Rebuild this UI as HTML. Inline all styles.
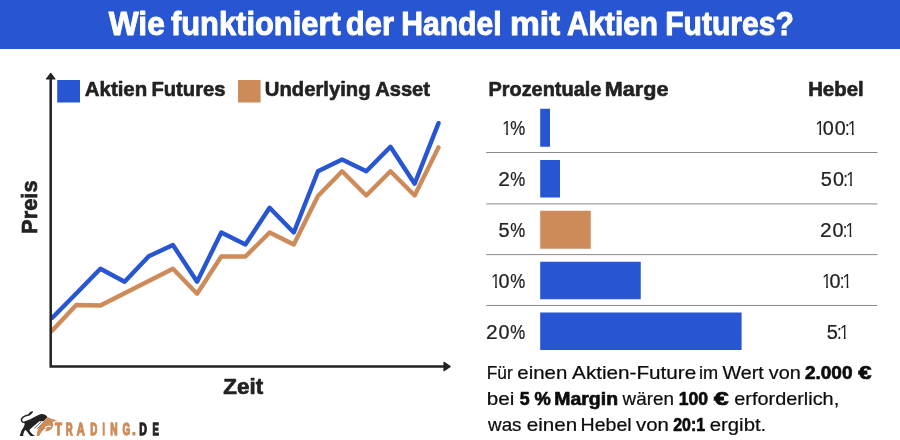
<!DOCTYPE html>
<html lang="de"><head><meta charset="utf-8"><title>Wie funktioniert der Handel mit Aktien Futures?</title>
<style>
html,body{margin:0;padding:0;background:#ffffff;}
body{width:900px;height:440px;overflow:hidden;}
svg{display:block;font-family:"Liberation Sans",sans-serif;}
text{white-space:pre;}
</style></head><body>
<svg width="900" height="440" viewBox="0 0 900 440">
<defs><clipPath id="c2010"><path d="M1.47 -14.73 H7.02 V0.39 H4.91 V-1.55 H1.47 Z"/></clipPath></defs>
<rect width="900" height="440" fill="#ffffff"/>
<rect x="0" y="0" width="900" height="49" fill="#2856d2"/>
<text transform="translate(108.70 34.50) scale(0.9540 1)" font-size="33.26" font-weight="700" fill="#ffffff" stroke="#ffffff" stroke-width="1.00" stroke-linejoin="round">Wie</text>
<text transform="translate(170.94 34.50) scale(0.9285 1)" font-size="33.26" font-weight="700" fill="#ffffff" stroke="#ffffff" stroke-width="1.00" stroke-linejoin="round">funktioniert</text>
<text transform="translate(345.86 34.50) scale(0.9322 1)" font-size="33.26" font-weight="700" fill="#ffffff" stroke="#ffffff" stroke-width="1.00" stroke-linejoin="round">der</text>
<text transform="translate(401.14 34.50) scale(0.9068 1)" font-size="33.26" font-weight="700" fill="#ffffff" stroke="#ffffff" stroke-width="1.00" stroke-linejoin="round">Handel</text>
<text transform="translate(509.92 34.50) scale(1.0059 1)" font-size="33.26" font-weight="700" fill="#ffffff" stroke="#ffffff" stroke-width="1.00" stroke-linejoin="round">mit</text>
<text transform="translate(566.95 34.50) scale(0.8971 1)" font-size="33.26" font-weight="700" fill="#ffffff" stroke="#ffffff" stroke-width="1.00" stroke-linejoin="round">Aktien</text>
<text transform="translate(665.14 34.50) scale(0.9046 1)" font-size="33.26" font-weight="700" fill="#ffffff" stroke="#ffffff" stroke-width="1.00" stroke-linejoin="round">Futures?</text>
<polyline points="52.08,330.75 76.25,305.00 100.42,305.50 124.59,293.25 148.76,281.00 172.93,268.75 197.10,293.75 221.27,256.50 245.44,256.50 269.61,232.50 293.78,244.50 317.95,196.00 342.12,171.25 366.29,195.50 390.46,171.25 414.63,195.50 438.49,147.38" fill="none" stroke="#cd8b59" stroke-width="4.4" stroke-linejoin="round" stroke-linecap="round"/>
<polyline points="52.08,318.00 76.25,293.50 100.42,268.75 124.59,281.75 148.76,256.25 172.93,245.00 197.10,281.75 221.27,232.50 245.44,244.50 269.61,207.75 293.78,232.50 317.95,171.25 342.12,159.50 366.29,171.25 390.46,146.75 414.63,183.75 438.54,123.15" fill="none" stroke="#2856d2" stroke-width="4.4" stroke-linejoin="round" stroke-linecap="round"/>
<path d="M50.7 78 V366.5 H445" fill="none" stroke="#222222" stroke-width="2.5" stroke-linejoin="miter"/>
<path d="M50.7 73.4 L55 79 H46.4 Z" fill="#222222" stroke="#222222" stroke-width="1.2" stroke-linejoin="round"/>
<path d="M450.2 366.5 L444 362.3 V370.7 Z" fill="#222222" stroke="#222222" stroke-width="1.2" stroke-linejoin="round"/>
<rect x="57.2" y="80" width="22.8" height="22.5" fill="#2856d2"/>
<rect x="238" y="80" width="22.6" height="22.5" fill="#cd8b59"/>
<text transform="translate(84.73 95.50) scale(1.0334 1)" font-size="19.80" font-weight="700" fill="#222222" stroke="#222222" stroke-width="0.59" stroke-linejoin="round">Aktien</text>
<text transform="translate(151.42 95.50) scale(1.0217 1)" font-size="19.80" font-weight="700" fill="#222222" stroke="#222222" stroke-width="0.59" stroke-linejoin="round">Futures</text>
<text transform="translate(264.77 95.50) scale(1.0236 1)" font-size="19.80" font-weight="700" fill="#222222" stroke="#222222" stroke-width="0.59" stroke-linejoin="round">Underlying</text>
<text transform="translate(375.23 95.50) scale(1.0161 1)" font-size="19.80" font-weight="700" fill="#222222" stroke="#222222" stroke-width="0.59" stroke-linejoin="round">Asset</text>
<text transform="translate(223.34 393.75) scale(1.0281 1)" font-size="21.77" font-weight="700" fill="#222222" stroke="#222222" stroke-width="0.65" stroke-linejoin="round">Zeit</text>
<text transform="translate(37 233.92) rotate(-90) scale(0.9659 1)" font-size="22.67" font-weight="700" fill="#222222" stroke="#222222" stroke-width="0.68">Preis</text>
<text transform="translate(488.44 95.75) scale(0.9951 1)" font-size="20.03" font-weight="700" fill="#222222" stroke="#222222" stroke-width="0.60" stroke-linejoin="round">Prozentuale</text>
<text transform="translate(604.84 95.75) scale(1.0777 1)" font-size="20.03" font-weight="700" fill="#222222" stroke="#222222" stroke-width="0.60" stroke-linejoin="round">Marge</text>
<text transform="translate(808.17 95.75) scale(1.0172 1)" font-size="20.03" font-weight="700" fill="#222222" stroke="#222222" stroke-width="0.60" stroke-linejoin="round">Hebel</text>
<g><text clip-path="url(#c2010)" transform="translate(501.99 134.80) scale(0.85 1)" font-size="20.10" font-weight="400" fill="#222222">1</text><text transform="translate(510.21 134.80) scale(0.8375 1)" font-size="20.10" font-weight="400" fill="#222222" stroke="#222222" stroke-width="0.24">%</text></g>
<g><text clip-path="url(#c2010)" transform="translate(815.19 134.80) scale(0.85 1)" font-size="20.10" font-weight="400" fill="#222222">1</text><text transform="translate(822.70 134.80) scale(0.9852 1)" font-size="20.10" font-weight="400" fill="#222222" stroke="#222222" stroke-width="0.24">0</text><text transform="translate(834.80 134.80) scale(0.9852 1)" font-size="20.10" font-weight="400" fill="#222222" stroke="#222222" stroke-width="0.24">0</text><text transform="translate(845.34 134.80) scale(0.7496 1)" font-size="20.10" font-weight="400" fill="#222222" stroke="#222222" stroke-width="0.24">:</text><text clip-path="url(#c2010)" transform="translate(847.79 134.80) scale(0.85 1)" font-size="20.10" font-weight="400" fill="#222222">1</text></g>
<rect x="540.2" y="108.75" width="9.80" height="38.00" fill="#2856d2"/>
<g><text transform="translate(498.15 185.70) scale(1.0393 1)" font-size="20.10" font-weight="400" fill="#222222" stroke="#222222" stroke-width="0.24">2</text><text transform="translate(510.21 185.70) scale(0.8375 1)" font-size="20.10" font-weight="400" fill="#222222" stroke="#222222" stroke-width="0.24">%</text></g>
<g><text transform="translate(820.85 185.70) scale(0.9955 1)" font-size="20.10" font-weight="400" fill="#222222" stroke="#222222" stroke-width="0.24">5</text><text transform="translate(832.95 185.70) scale(0.9852 1)" font-size="20.10" font-weight="400" fill="#222222" stroke="#222222" stroke-width="0.24">0</text><text transform="translate(843.49 185.70) scale(0.7496 1)" font-size="20.10" font-weight="400" fill="#222222" stroke="#222222" stroke-width="0.24">:</text><text clip-path="url(#c2010)" transform="translate(845.94 185.70) scale(0.85 1)" font-size="20.10" font-weight="400" fill="#222222">1</text></g>
<rect x="540.2" y="160" width="19.80" height="37.50" fill="#2856d2"/>
<g><text transform="translate(498.40 236.80) scale(0.9955 1)" font-size="20.10" font-weight="400" fill="#222222" stroke="#222222" stroke-width="0.24">5</text><text transform="translate(510.21 236.80) scale(0.8375 1)" font-size="20.10" font-weight="400" fill="#222222" stroke="#222222" stroke-width="0.24">%</text></g>
<g><text transform="translate(820.10 236.80) scale(1.0393 1)" font-size="20.10" font-weight="400" fill="#222222" stroke="#222222" stroke-width="0.24">2</text><text transform="translate(832.45 236.80) scale(0.9852 1)" font-size="20.10" font-weight="400" fill="#222222" stroke="#222222" stroke-width="0.24">0</text><text transform="translate(842.99 236.80) scale(0.7496 1)" font-size="20.10" font-weight="400" fill="#222222" stroke="#222222" stroke-width="0.24">:</text><text clip-path="url(#c2010)" transform="translate(845.44 236.80) scale(0.85 1)" font-size="20.10" font-weight="400" fill="#222222">1</text></g>
<rect x="540.2" y="210.75" width="50.55" height="38.00" fill="#cd8b59"/>
<g><text clip-path="url(#c2010)" transform="translate(490.89 287.50) scale(0.85 1)" font-size="20.10" font-weight="400" fill="#222222">1</text><text transform="translate(498.40 287.50) scale(0.9852 1)" font-size="20.10" font-weight="400" fill="#222222" stroke="#222222" stroke-width="0.24">0</text><text transform="translate(510.21 287.50) scale(0.8375 1)" font-size="20.10" font-weight="400" fill="#222222" stroke="#222222" stroke-width="0.24">%</text></g>
<g><text clip-path="url(#c2010)" transform="translate(821.94 287.50) scale(0.85 1)" font-size="20.10" font-weight="400" fill="#222222">1</text><text transform="translate(829.45 287.50) scale(0.9852 1)" font-size="20.10" font-weight="400" fill="#222222" stroke="#222222" stroke-width="0.24">0</text><text transform="translate(839.99 287.50) scale(0.7496 1)" font-size="20.10" font-weight="400" fill="#222222" stroke="#222222" stroke-width="0.24">:</text><text clip-path="url(#c2010)" transform="translate(842.44 287.50) scale(0.85 1)" font-size="20.10" font-weight="400" fill="#222222">1</text></g>
<rect x="540.2" y="261.75" width="100.55" height="37.50" fill="#2856d2"/>
<g><text transform="translate(486.05 338.50) scale(1.0393 1)" font-size="20.10" font-weight="400" fill="#222222" stroke="#222222" stroke-width="0.24">2</text><text transform="translate(498.40 338.50) scale(0.9852 1)" font-size="20.10" font-weight="400" fill="#222222" stroke="#222222" stroke-width="0.24">0</text><text transform="translate(510.21 338.50) scale(0.8375 1)" font-size="20.10" font-weight="400" fill="#222222" stroke="#222222" stroke-width="0.24">%</text></g>
<g><text transform="translate(826.70 338.50) scale(0.9955 1)" font-size="20.10" font-weight="400" fill="#222222" stroke="#222222" stroke-width="0.24">5</text><text transform="translate(837.24 338.50) scale(0.7496 1)" font-size="20.10" font-weight="400" fill="#222222" stroke="#222222" stroke-width="0.24">:</text><text clip-path="url(#c2010)" transform="translate(839.69 338.50) scale(0.85 1)" font-size="20.10" font-weight="400" fill="#222222">1</text></g>
<rect x="540.2" y="312.5" width="201.40" height="37.50" fill="#2856d2"/>
<rect x="486.2" y="152.0" width="391.3" height="1" fill="#8a8a8a"/>
<rect x="486.2" y="203.4" width="391.3" height="1" fill="#8a8a8a"/>
<rect x="486.2" y="254.1" width="391.3" height="1" fill="#8a8a8a"/>
<rect x="486.2" y="304.95" width="391.3" height="1" fill="#8a8a8a"/>
<text transform="translate(486.70 379.20) scale(0.9545 1)" font-size="18.14" font-weight="400" fill="#0c0c0c" stroke="#0c0c0c" stroke-width="0.22">Für</text>
<text transform="translate(517.27 379.20) scale(1.1267 1)" font-size="18.14" font-weight="400" fill="#0c0c0c" stroke="#0c0c0c" stroke-width="0.22">einen</text>
<text transform="translate(572.09 379.20) scale(1.1407 1)" font-size="18.14" font-weight="400" fill="#0c0c0c" stroke="#0c0c0c" stroke-width="0.22">Aktien-Future</text>
<text transform="translate(698.90 379.20) scale(1.0028 1)" font-size="18.14" font-weight="400" fill="#0c0c0c" stroke="#0c0c0c" stroke-width="0.22">im</text>
<text transform="translate(722.49 379.20) scale(1.0887 1)" font-size="18.14" font-weight="400" fill="#0c0c0c" stroke="#0c0c0c" stroke-width="0.22">Wert</text>
<text transform="translate(768.74 379.20) scale(1.0945 1)" font-size="18.14" font-weight="400" fill="#0c0c0c" stroke="#0c0c0c" stroke-width="0.22">von</text>
<text transform="translate(804.89 379.20) scale(1.0327 1)" font-size="18.44" font-weight="700" fill="#0c0c0c" stroke="#0c0c0c" stroke-width="0.65" stroke-linejoin="round">2.000</text>
<text transform="translate(858.34 379.20) scale(1.3058 1)" font-size="18.44" font-weight="700" fill="#0c0c0c" stroke="#0c0c0c" stroke-width="0.65" stroke-linejoin="round">€</text>
<text transform="translate(486.74 405.20) scale(1.1405 1)" font-size="18.14" font-weight="400" fill="#0c0c0c" stroke="#0c0c0c" stroke-width="0.22">bei</text>
<text transform="translate(519.73 405.20) scale(0.9634 1)" font-size="18.44" font-weight="700" fill="#0c0c0c" stroke="#0c0c0c" stroke-width="0.65" stroke-linejoin="round">5</text>
<text transform="translate(534.40 405.20) scale(0.9931 1)" font-size="18.44" font-weight="700" fill="#0c0c0c" stroke="#0c0c0c" stroke-width="0.65" stroke-linejoin="round">%</text>
<text transform="translate(554.29 405.20) scale(1.0549 1)" font-size="18.44" font-weight="700" fill="#0c0c0c" stroke="#0c0c0c" stroke-width="0.65" stroke-linejoin="round">Margin</text>
<text transform="translate(622.59 405.20) scale(1.0389 1)" font-size="18.14" font-weight="400" fill="#0c0c0c" stroke="#0c0c0c" stroke-width="0.22">wären</text>
<text transform="translate(678.70 405.20) scale(0.9523 1)" font-size="18.44" font-weight="700" fill="#0c0c0c" stroke="#0c0c0c" stroke-width="0.65" stroke-linejoin="round">100</text>
<text transform="translate(713.87 405.20) scale(1.4680 1)" font-size="18.44" font-weight="700" fill="#0c0c0c" stroke="#0c0c0c" stroke-width="0.65" stroke-linejoin="round">€</text>
<text transform="translate(734.29 405.20) scale(1.0953 1)" font-size="18.14" font-weight="400" fill="#0c0c0c" stroke="#0c0c0c" stroke-width="0.22">erforderlich,</text>
<text transform="translate(488.09 431.20) scale(1.0370 1)" font-size="18.14" font-weight="400" fill="#0c0c0c" stroke="#0c0c0c" stroke-width="0.22">was</text>
<text transform="translate(526.76 431.20) scale(1.1385 1)" font-size="18.14" font-weight="400" fill="#0c0c0c" stroke="#0c0c0c" stroke-width="0.22">einen</text>
<text transform="translate(580.52 431.20) scale(1.0808 1)" font-size="18.14" font-weight="400" fill="#0c0c0c" stroke="#0c0c0c" stroke-width="0.22">Hebel</text>
<text transform="translate(635.99 431.20) scale(1.1214 1)" font-size="18.14" font-weight="400" fill="#0c0c0c" stroke="#0c0c0c" stroke-width="0.22">von</text>
<text transform="translate(673.20 431.20) scale(0.8660 1)" font-size="18.44" font-weight="700" fill="#0c0c0c" stroke="#0c0c0c" stroke-width="0.65" stroke-linejoin="round">20:1</text>
<text transform="translate(709.77 431.20) scale(1.1197 1)" font-size="18.14" font-weight="400" fill="#0c0c0c" stroke="#0c0c0c" stroke-width="0.22">ergibt.</text>
<g><text transform="translate(54.89 434.95) scale(0.6678 1)" font-size="17.01" font-weight="700" fill="#cd8b59" stroke="#cd8b59" stroke-width="1.1" vector-effect="non-scaling-stroke" stroke-linejoin="miter">T</text><text transform="translate(65.68 434.95) scale(0.5649 1)" font-size="17.01" font-weight="700" fill="#cd8b59" stroke="#cd8b59" stroke-width="1.1" vector-effect="non-scaling-stroke" stroke-linejoin="miter">R</text><text transform="translate(76.72 434.95) scale(0.6495 1)" font-size="17.01" font-weight="700" fill="#cd8b59" stroke="#cd8b59" stroke-width="1.1" vector-effect="non-scaling-stroke" stroke-linejoin="miter">A</text><text transform="translate(90.37 434.95) scale(0.5737 1)" font-size="17.01" font-weight="700" fill="#cd8b59" stroke="#cd8b59" stroke-width="1.1" vector-effect="non-scaling-stroke" stroke-linejoin="miter">D</text><text transform="translate(102.56 434.95) scale(0.4866 1)" font-size="17.01" font-weight="700" fill="#cd8b59" stroke="#cd8b59" stroke-width="1.1" vector-effect="non-scaling-stroke" stroke-linejoin="miter">I</text><text transform="translate(110.34 434.95) scale(0.5980 1)" font-size="17.01" font-weight="700" fill="#cd8b59" stroke="#cd8b59" stroke-width="1.1" vector-effect="non-scaling-stroke" stroke-linejoin="miter">N</text><text transform="translate(122.60 434.95) scale(0.5837 1)" font-size="17.01" font-weight="700" fill="#cd8b59" stroke="#cd8b59" stroke-width="1.1" vector-effect="non-scaling-stroke" stroke-linejoin="miter">G</text><text transform="translate(132.10 434.95) scale(0.8111 1)" font-size="17.01" font-weight="700" fill="#cd8b59" stroke="#cd8b59" stroke-width="1.1" vector-effect="non-scaling-stroke" stroke-linejoin="miter">.</text><text transform="translate(139.21 434.95) scale(0.6215 1)" font-size="17.01" font-weight="700" fill="#222222" stroke="#222222" stroke-width="1.1" vector-effect="non-scaling-stroke" stroke-linejoin="miter">D</text><text transform="translate(152.38 434.95) scale(0.5620 1)" font-size="17.01" font-weight="700" fill="#222222" stroke="#222222" stroke-width="1.1" vector-effect="non-scaling-stroke" stroke-linejoin="miter">E</text></g>
<g id="bull">
<path d="M32 412.3 C30.4 412.8 29.6 414.4 28.3 415 C25 415.9 21.7 417.2 21.4 419.7 C21.2 421.6 23 422.4 25.5 422.6" fill="none" stroke="#222222" stroke-width="1.5" stroke-linecap="round"/>
<path d="M33 411.1 L29.2 412.8 L28.4 415.9 C30.6 415.3 32.2 413.5 33 411.1 Z" fill="#222222"/>
<path d="M24.3 421.6 L27 420.4 L30.3 419.2 L33.5 417.5 L36.4 416.1 L39 414.8 L41.2 414.1 L43.5 414.2 L45.5 415.1 L47.5 416.9 L43.6 421.3 L39.4 421.3 L30.9 428.6 L29.4 430 L30 431.4 L32.4 434.2 L34.8 435.7 L34.8 436.1 L30.7 436.1 L29 434.2 L27.2 431.8 L25.6 429.9 L24.5 430.8 L23.3 433.9 L23.3 436.1 L19.7 436.1 L20.5 433.5 L21.5 430.5 L23.3 427.8 L24.7 424.5 Z" fill="#222222"/>
<path d="M41.2 421.9 L34.3 428.3" stroke="#222222" stroke-width="0.7" fill="none"/>
<path d="M43.1 422.7 L37 428.9" stroke="#222222" stroke-width="0.7" fill="none"/>
<path d="M47.5 416.9 C49 417.5 50.5 418.5 51.4 418.8 L57.2 420.4 L52.4 422 C53.2 423.5 53.5 425 53.1 426.3 C52.6 428.1 50.6 430.1 48.8 430.7 C47 431.3 45.5 431.4 44.2 431.2 C45.8 430.4 46.4 429.4 46.5 428.5 C45.2 428.7 44 429.4 43.2 430.2 C41.3 432 40.2 433.7 39.2 436.1 L36.6 436.1 C36.8 433.7 37.2 432 37.7 430.5 C38.4 428.5 39.4 427 40.4 425.5 L44 421 Z" fill="#cd8b59"/>
<path d="M45 428.1 C46.5 426.3 49 425.8 51.2 426.6" fill="none" stroke="#ffffff" stroke-width="1.2"/>
</g>

</svg>
</body></html>
